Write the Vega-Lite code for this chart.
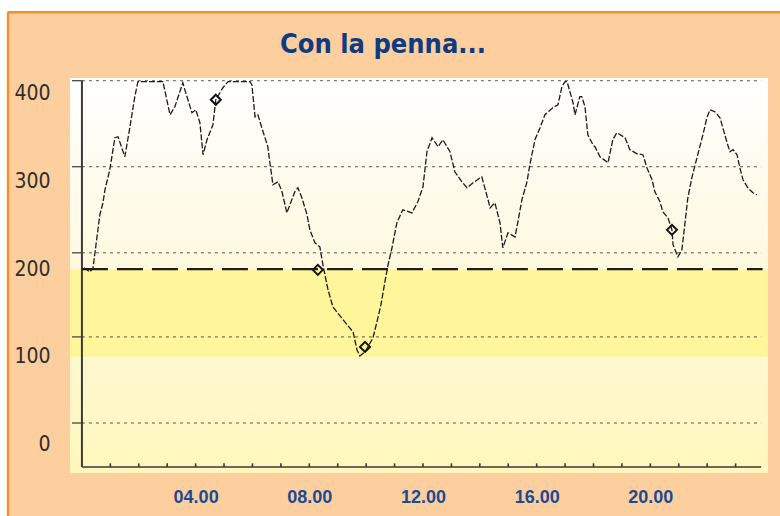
{
  "$schema": "https://vega.github.io/schema/vega-lite/v6.json",
  "width": 698,
  "height": 395,
  "autosize": {"type": "none"},
  "padding": {"left": 70, "top": 78, "right": 12, "bottom": 43},
  "background": "#FDCF9E",
  "title": {
    "text": "Con la penna...",
    "font": "Liberation Sans Narrow, DejaVu Sans Condensed, sans-serif",
    "fontSize": 27,
    "fontWeight": "bold",
    "color": "#0F3B82",
    "anchor": "middle",
    "dx": -36,
    "offset": -80,
    "baseline": "alphabetic"
  },
  "datasets": {
    "curva": [
      {"ora": 0.07, "glicemia": 201.5}, {"ora": 0.28, "glicemia": 196.9}, {"ora": 0.39, "glicemia": 201.5},
      {"ora": 0.63, "glicemia": 262}, {"ora": 0.74, "glicemia": 275.6}, {"ora": 0.81, "glicemia": 290.5},
      {"ora": 0.98, "glicemia": 313.3}, {"ora": 1.16, "glicemia": 349.9}, {"ora": 1.27, "glicemia": 351},
      {"ora": 1.51, "glicemia": 328.2}, {"ora": 1.69, "glicemia": 362.4}, {"ora": 1.86, "glicemia": 396.7},
      {"ora": 1.97, "glicemia": 413.8}, {"ora": 2.85, "glicemia": 413.8}, {"ora": 3.1, "glicemia": 376.1},
      {"ora": 3.27, "glicemia": 385.2}, {"ora": 3.55, "glicemia": 412.6}, {"ora": 3.62, "glicemia": 404.7},
      {"ora": 3.87, "glicemia": 378.4}, {"ora": 4.01, "glicemia": 381.8}, {"ora": 4.15, "glicemia": 367},
      {"ora": 4.26, "glicemia": 330.5}, {"ora": 4.4, "glicemia": 347.6}, {"ora": 4.61, "glicemia": 364.7},
      {"ora": 4.71, "glicemia": 393.2}, {"ora": 4.96, "glicemia": 406.9}, {"ora": 5.14, "glicemia": 413.8},
      {"ora": 5.91, "glicemia": 413.8}, {"ora": 5.98, "glicemia": 410.4}, {"ora": 6.09, "glicemia": 373.8},
      {"ora": 6.19, "glicemia": 376.1}, {"ora": 6.33, "glicemia": 361.3}, {"ora": 6.54, "glicemia": 339.6},
      {"ora": 6.61, "glicemia": 322.5}, {"ora": 6.72, "glicemia": 296.2}, {"ora": 6.9, "glicemia": 299.6},
      {"ora": 7.04, "glicemia": 288.2}, {"ora": 7.21, "glicemia": 264.2}, {"ora": 7.49, "glicemia": 288.2},
      {"ora": 7.6, "glicemia": 292.8}, {"ora": 7.74, "glicemia": 281.4}, {"ora": 7.92, "glicemia": 262},
      {"ora": 8.02, "glicemia": 244.8}, {"ora": 8.2, "glicemia": 230}, {"ora": 8.37, "glicemia": 225.4},
      {"ora": 8.48, "glicemia": 204.9}, {"ora": 8.66, "glicemia": 176.3}, {"ora": 8.83, "glicemia": 156.9},
      {"ora": 9.25, "glicemia": 139.8}, {"ora": 9.54, "glicemia": 128.4}, {"ora": 9.68, "glicemia": 107.8},
      {"ora": 9.78, "glicemia": 101}, {"ora": 9.96, "glicemia": 105.6}, {"ora": 10.24, "glicemia": 121.5},
      {"ora": 10.38, "glicemia": 139.8}, {"ora": 10.52, "glicemia": 159.2}, {"ora": 10.66, "glicemia": 185.5},
      {"ora": 10.77, "glicemia": 204.9}, {"ora": 10.91, "glicemia": 224.3}, {"ora": 11.08, "glicemia": 252.8},
      {"ora": 11.29, "glicemia": 267.7}, {"ora": 11.61, "glicemia": 264.2}, {"ora": 11.82, "glicemia": 276.8},
      {"ora": 12, "glicemia": 293.9}, {"ora": 12.14, "glicemia": 333.9}, {"ora": 12.32, "glicemia": 349.9},
      {"ora": 12.53, "glicemia": 339.6}, {"ora": 12.7, "glicemia": 347.6}, {"ora": 12.95, "glicemia": 333.9},
      {"ora": 13.12, "glicemia": 311}, {"ora": 13.37, "glicemia": 299.6}, {"ora": 13.55, "glicemia": 292.8},
      {"ora": 13.76, "glicemia": 298.5}, {"ora": 14.07, "glicemia": 305.3}, {"ora": 14.29, "glicemia": 279.1},
      {"ora": 14.36, "glicemia": 269.9}, {"ora": 14.53, "glicemia": 275.6}, {"ora": 14.71, "glicemia": 252.8},
      {"ora": 14.81, "glicemia": 224.3}, {"ora": 14.99, "glicemia": 241.4}, {"ora": 15.24, "glicemia": 236.8},
      {"ora": 15.34, "glicemia": 254}, {"ora": 15.48, "glicemia": 279.1}, {"ora": 15.66, "glicemia": 299.6},
      {"ora": 15.76, "glicemia": 319}, {"ora": 15.94, "glicemia": 347.6}, {"ora": 16.12, "glicemia": 361.3},
      {"ora": 16.29, "glicemia": 376.1}, {"ora": 16.57, "glicemia": 384.1}, {"ora": 16.75, "glicemia": 387.5},
      {"ora": 16.89, "glicemia": 408.1}, {"ora": 17, "glicemia": 413.8}, {"ora": 17.07, "glicemia": 413.8},
      {"ora": 17.28, "glicemia": 389.8}, {"ora": 17.35, "glicemia": 376.1}, {"ora": 17.52, "glicemia": 396.7},
      {"ora": 17.59, "glicemia": 396.7}, {"ora": 17.7, "glicemia": 385.2}, {"ora": 17.8, "glicemia": 353.3},
      {"ora": 17.98, "glicemia": 341.9}, {"ora": 18.05, "glicemia": 339.6}, {"ora": 18.23, "glicemia": 328.2},
      {"ora": 18.51, "glicemia": 321.3}, {"ora": 18.68, "glicemia": 347.6}, {"ora": 18.82, "glicemia": 355.6},
      {"ora": 19.11, "glicemia": 349.9}, {"ora": 19.28, "glicemia": 336.2}, {"ora": 19.53, "glicemia": 331.6},
      {"ora": 19.74, "glicemia": 330.5}, {"ora": 19.88, "glicemia": 315.6}, {"ora": 20.06, "glicemia": 302},
      {"ora": 20.16, "glicemia": 288.2}, {"ora": 20.34, "glicemia": 276.8}, {"ora": 20.44, "glicemia": 265.4},
      {"ora": 20.62, "glicemia": 258.5}, {"ora": 20.76, "glicemia": 244.8}, {"ora": 20.8, "glicemia": 227.7},
      {"ora": 20.97, "glicemia": 214}, {"ora": 21.11, "glicemia": 222}, {"ora": 21.22, "glicemia": 252.8},
      {"ora": 21.32, "glicemia": 281.4}, {"ora": 21.46, "glicemia": 304.2}, {"ora": 21.64, "glicemia": 327},
      {"ora": 21.74, "glicemia": 339.6}, {"ora": 21.85, "glicemia": 353.3}, {"ora": 21.99, "glicemia": 372.7},
      {"ora": 22.1, "glicemia": 381.8}, {"ora": 22.27, "glicemia": 379.5}, {"ora": 22.45, "glicemia": 372.7},
      {"ora": 22.55, "glicemia": 361.3}, {"ora": 22.7, "glicemia": 344.2}, {"ora": 22.8, "glicemia": 333.9},
      {"ora": 22.91, "glicemia": 336.2}, {"ora": 23.05, "glicemia": 330.5}, {"ora": 23.15, "glicemia": 315.6},
      {"ora": 23.26, "glicemia": 302}, {"ora": 23.43, "glicemia": 292.8}, {"ora": 23.61, "glicemia": 287.1},
      {"ora": 23.75, "glicemia": 284.8}
    ],
    "misure": [
      {"ora": 4.71, "glicemia": 393.2},
      {"ora": 8.3, "glicemia": 199.2},
      {"ora": 9.96, "glicemia": 111.3},
      {"ora": 20.76, "glicemia": 244.8}
    ],
    "griglia": [
      {"livello": 414.9}, {"livello": 316.8}, {"livello": 218.6}, {"livello": 122.7}, {"livello": 24.5}
    ],
    "ore": [
      {"ora": 1}, {"ora": 2}, {"ora": 3}, {"ora": 4}, {"ora": 5}, {"ora": 6}, {"ora": 7}, {"ora": 8},
      {"ora": 9}, {"ora": 10}, {"ora": 11}, {"ora": 12}, {"ora": 13}, {"ora": 14}, {"ora": 15}, {"ora": 16},
      {"ora": 17}, {"ora": 18}, {"ora": 19}, {"ora": 20}, {"ora": 21}, {"ora": 22}, {"ora": 23}
    ],
    "fascia": [{"min": 100, "max": 200}],
    "vuoto": [{}]
  },
  "layer": [
    {
      "data": {"name": "vuoto"},
      "mark": {"type": "rect", "color": "#FFFFFF"},
      "encoding": {
        "x": {
          "datum": -2.9,
          "type": "quantitative",
          "scale": {"domain": [-0.42, 24.14], "nice": false, "zero": false},
          "axis": {
            "values": [4, 8, 12, 16, 20],
            "labelExpr": "(datum.value < 10 ? '0' : '') + datum.value + '.00'",
            "title": null,
            "domain": false,
            "ticks": false,
            "grid": false,
            "labelPadding": 15,
            "labelFont": "Liberation Sans, Arial, sans-serif",
            "labelFontSize": 18,
            "labelFontWeight": "bold",
            "labelColor": "#1C4A94",
            "labelBaseline": "top"
          }
        },
        "x2": {"datum": 24.6},
        "y": {
          "datum": 493.1,
          "type": "quantitative",
          "scale": {"domain": [-32.5, 418], "nice": false, "zero": false},
          "axis": {
            "values": [0, 100, 200, 300, 400],
            "title": null,
            "domain": false,
            "ticks": false,
            "grid": false,
            "labelPadding": 20,
            "labelFont": "Liberation Sans Narrow, DejaVu Sans Condensed, sans-serif",
            "labelFontSize": 21,
            "labelColor": "#2E2E2E"
          }
        },
        "y2": {"datum": 507.4}
      }
    },
    {
      "data": {"name": "vuoto"},
      "mark": {"type": "rect", "color": "#FFFFFF"},
      "encoding": {
        "x": {"datum": -2.9, "type": "quantitative"},
        "x2": {"datum": -2.62},
        "y": {"datum": -81.5, "type": "quantitative"},
        "y2": {"datum": 507.4}
      }
    },
    {
      "data": {"name": "vuoto"},
      "mark": {"type": "rule", "color": "#F39229", "strokeWidth": 2.5},
      "encoding": {
        "x": {"datum": -2.62, "type": "quantitative"},
        "x2": {"datum": 24.6},
        "y": {"datum": 493.1, "type": "quantitative"}
      }
    },
    {
      "data": {"name": "vuoto"},
      "mark": {"type": "rule", "color": "#F39229", "strokeWidth": 2.5},
      "encoding": {
        "x": {"datum": -2.6, "type": "quantitative"},
        "y": {"datum": -81.5, "type": "quantitative"},
        "y2": {"datum": 493.1}
      }
    },
    {
      "data": {"name": "vuoto"},
      "mark": {
        "type": "rect",
        "color": {
          "gradient": "linear",
          "x1": 0, "y1": 0, "x2": 0, "y2": 1,
          "stops": [
            {"offset": 0, "color": "#FFFFFF"},
            {"offset": 0.45, "color": "#FEF9E0"},
            {"offset": 1, "color": "#FFF7BC"}
          ]
        }
      },
      "encoding": {
        "x": {"datum": -0.42, "type": "quantitative"},
        "x2": {"datum": 24.14},
        "y": {"datum": -32.5, "type": "quantitative"},
        "y2": {"datum": 418}
      }
    },
    {
      "data": {"name": "fascia"},
      "mark": {"type": "rect", "color": "#FFF59A"},
      "encoding": {
        "x": {"datum": -0.42, "type": "quantitative"},
        "x2": {"datum": 24.14},
        "y": {"field": "min", "type": "quantitative"},
        "y2": {"field": "max"}
      }
    },
    {
      "data": {"name": "griglia"},
      "mark": {"type": "rule", "color": "#3A3A3A", "strokeWidth": 1, "strokeDash": [3, 4], "opacity": 0.85},
      "encoding": {
        "x": {"datum": 0, "type": "quantitative"},
        "x2": {"datum": 23.9},
        "y": {"field": "livello", "type": "quantitative"}
      }
    },
    {
      "data": {"name": "griglia"},
      "mark": {"type": "rule", "color": "#3A3A3A", "strokeWidth": 1.2},
      "encoding": {
        "x": {"datum": -0.35, "type": "quantitative"},
        "x2": {"datum": 0},
        "y": {"field": "livello", "type": "quantitative"}
      }
    },
    {
      "data": {"name": "vuoto"},
      "mark": {"type": "rule", "color": "#3A3A3A", "strokeWidth": 2},
      "encoding": {
        "x": {"datum": 0, "type": "quantitative"},
        "y": {"datum": -25.7, "type": "quantitative"},
        "y2": {"datum": 414.9}
      }
    },
    {
      "data": {"name": "vuoto"},
      "mark": {"type": "rule", "color": "#3A3A3A", "strokeWidth": 1.6},
      "encoding": {
        "x": {"datum": 0, "type": "quantitative"},
        "x2": {"datum": 23.9},
        "y": {"datum": -25.7, "type": "quantitative"}
      }
    },
    {
      "data": {"name": "ore"},
      "mark": {"type": "rule", "color": "#3A3A3A", "strokeWidth": 1.6},
      "encoding": {
        "x": {"field": "ora", "type": "quantitative"},
        "y": {"datum": -25.7, "type": "quantitative"},
        "y2": {"datum": -21.5}
      }
    },
    {
      "data": {"name": "fascia"},
      "mark": {"type": "rule", "color": "#1E1E1E", "strokeWidth": 2.2, "strokeDash": [26, 9]},
      "encoding": {
        "x": {"datum": 0, "type": "quantitative"},
        "x2": {"datum": 23.95},
        "y": {"field": "max", "type": "quantitative"}
      }
    },
    {
      "data": {"name": "curva"},
      "mark": {"type": "line", "color": "#1A1A1A", "strokeWidth": 1.3, "strokeDash": [6, 2]},
      "encoding": {
        "x": {"field": "ora", "type": "quantitative"},
        "y": {"field": "glicemia", "type": "quantitative"}
      }
    },
    {
      "data": {"name": "misure"},
      "mark": {"type": "point", "shape": "diamond", "filled": false, "stroke": "#111111", "strokeWidth": 2, "size": 100, "opacity": 1},
      "encoding": {
        "x": {"field": "ora", "type": "quantitative"},
        "y": {"field": "glicemia", "type": "quantitative"}
      }
    }
  ],
  "config": {"view": {"stroke": null}}
}
